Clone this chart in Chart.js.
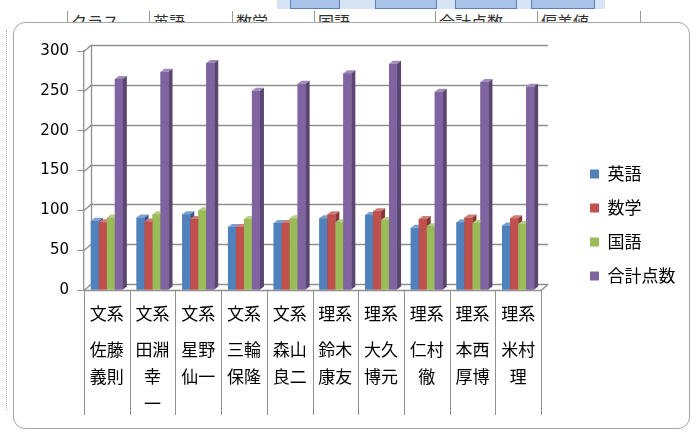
<!DOCTYPE html>
<html>
<head>
<meta charset="utf-8">
<script src="https://cdn.jsdelivr.net/npm/chart.js@4"></script>
<style>
  body { margin: 0; width: 699px; height: 432px; background: #fff; position: relative; overflow: hidden; font-family: "Noto Sans CJK JP", sans-serif; }
  .cell { position: absolute; top: 12px; font-size: 16px; line-height: 18px; color: #333; }
  .vline { position: absolute; top: 11px; width: 1px; height: 14px; background: #999; }
  #pic { position: absolute; left: 277px; top: 0; width: 328px; height: 9px; background: #d6e4f6; }
  #pic div { position: absolute; top: 0; height: 8px; border: 1px solid #5b7fbf; border-top: none; background: #a9c3e8; }
  #edge { position: absolute; left: 6px; top: 30px; width: 1px; height: 380px; border-left: 1px dotted #b0b0b0; }
  #frame { position: absolute; left: 13px; top: 22px; width: 675px; height: 405px; background: #fff; border: 1px solid #a6a6a6; border-radius: 12px; }
  #wrap { position: absolute; left: 13px; top: 23px; width: 676px; height: 404px; }
</style>
</head>
<body>
<div id="pic"><div style="left:13px;width:48px"></div><div style="left:98px;width:60px"></div><div style="left:178px;width:60px"></div><div style="left:254px;width:62px"></div></div>
<div id="edge"></div>
<div class="vline" style="left:67px"></div><div class="cell" style="left:71px">クラス</div>
<div class="vline" style="left:149px"></div><div class="cell" style="left:153px">英語</div>
<div class="vline" style="left:232px"></div><div class="cell" style="left:236px">数学</div>
<div class="vline" style="left:314px"></div><div class="cell" style="left:318px">国語</div>
<div class="vline" style="left:435px"></div><div class="cell" style="left:439px">合計点数</div>
<div class="vline" style="left:537px"></div><div class="cell" style="left:541px">偏差値</div>
<div class="vline" style="left:640px"></div>
<div id="frame"></div>
<div id="wrap"><canvas id="chart"></canvas></div>
<script>
const groups = ["文系", "文系", "文系", "文系", "文系", "理系", "理系", "理系", "理系", "理系"];
const names = [["佐藤", "義則"], ["田淵", "幸", "一"], ["星野", "仙一"], ["三輪", "保隆"], ["森山", "良二"],
  ["鈴木", "康友"], ["大久", "博元"], ["仁村", "徹"], ["本西", "厚博"], ["米村", "理"]];
const english = [87, 91, 95, 79, 84, 90, 94, 78, 85, 81];
const math = [85, 86, 89, 79, 84, 95, 99, 89, 91, 90];
const japanese = [91, 95, 100, 89, 90, 85, 88, 80, 84, 83];
const total = [265, 274, 285, 250, 259, 272, 284, 249, 261, 255];
const yTicks = [0, 50, 100, 150, 200, 250, 300];

const colors = ["#4f81bd", "#c0504d", "#9bbb59", "#8064a2"];

// wall depth and bar depth for the fake 3D look
const WALL_DX = 7, WALL_DY = 6;
const BAR_DX = 4, BAR_DY = 3;

function shade(hex, f) {
  let n = parseInt(hex.slice(1), 16);
  let r = n >> 16, g = (n >> 8) & 255, b = n & 255;
  const m = v => Math.max(0, Math.min(255, Math.round(f < 0 ? v * (1 + f) : v + (255 - v) * f)));
  return "rgb(" + m(r) + "," + m(g) + "," + m(b) + ")";
}

const wallPlugin = {
  id: "wall",
  beforeDatasetsDraw(chart) {
    const { ctx, chartArea: a, scales: { x, y } } = chart;
    ctx.save();
    ctx.strokeStyle = "#8f8f8f";
    ctx.lineWidth = 1.3;
    yTicks.forEach(v => {
      const py = Math.round(y.getPixelForValue(v)) + 0.5;
      ctx.beginPath();
      ctx.moveTo(a.left, py);
      ctx.lineTo(a.left + WALL_DX, py - WALL_DY);
      ctx.lineTo(a.right + WALL_DX, py - WALL_DY);
      ctx.stroke();
    });
    ctx.beginPath();
    ctx.moveTo(a.left + WALL_DX + 0.5, y.getPixelForValue(300) - WALL_DY);
    ctx.lineTo(a.left + WALL_DX + 0.5, a.bottom - WALL_DY);
    ctx.stroke();
    // floor front edge
    ctx.beginPath();
    ctx.moveTo(a.left, a.bottom + 0.5);
    ctx.lineTo(a.right, a.bottom + 0.5);
    ctx.lineTo(a.right + WALL_DX, a.bottom - WALL_DY + 0.5);
    ctx.stroke();
    // category dividers
    const n = chart.data.labels.length;
    const step = (x.right - x.left) / n;
    ctx.lineWidth = 1;
    for (let i = 0; i <= n; i++) {
      const px = Math.round(x.left + i * step) + 0.5;
      ctx.beginPath();
      ctx.moveTo(px, a.bottom);
      ctx.lineTo(px, a.bottom + 125);
      ctx.stroke();
    }
    ctx.restore();
  },
  afterDatasetsDraw(chart) {
    const ctx = chart.ctx;
    const n = chart.data.labels.length;
    ctx.save();
    for (let i = 0; i < n; i++) {
      chart.data.datasets.forEach((ds, d) => {
        const el = chart.getDatasetMeta(d).data[i];
        const c = colors[d];
        const l = el.x - el.width / 2, r = el.x + el.width / 2;
        const t = el.y, b = el.base;
        ctx.fillStyle = c;
        ctx.fillRect(l, t, r - l, b - t);
        ctx.fillStyle = shade(c, 0.25);
        ctx.beginPath();
        ctx.moveTo(l, t);
        ctx.lineTo(l + BAR_DX, t - BAR_DY);
        ctx.lineTo(r + BAR_DX, t - BAR_DY);
        ctx.lineTo(r, t);
        ctx.closePath();
        ctx.fill();
        ctx.fillStyle = shade(c, -0.3);
        ctx.beginPath();
        ctx.moveTo(r, t);
        ctx.lineTo(r + BAR_DX, t - BAR_DY);
        ctx.lineTo(r + BAR_DX, b - BAR_DY);
        ctx.lineTo(r, b);
        ctx.closePath();
        ctx.fill();
      });
    }
    ctx.restore();
  }
};

const chart = new Chart(document.getElementById("chart"), {
  type: "bar",
  data: {
    labels: groups,
    datasets: [
      { label: "英語", data: english, backgroundColor: colors[0] },
      { label: "数学", data: math, backgroundColor: colors[1] },
      { label: "国語", data: japanese, backgroundColor: colors[2] },
      { label: "合計点数", data: total, backgroundColor: colors[3] },
    ],
  },
  options: {
    responsive: true,
    maintainAspectRatio: false,
    animation: false,
    events: [],
    categoryPercentage: 0.7,
    barPercentage: 1,
    borderWidth: 0,
    layout: { padding: { top: 0, bottom: 0, left: 0, right: 4 } },
    plugins: {
      tooltip: { enabled: false },
      legend: {
        position: "right",
        labels: {
          boxWidth: 9,
          boxHeight: 9,
          padding: 17,
          color: "#000",
          font: { family: "'Noto Sans CJK JP'", size: 17 },
        },
      },
    },
    scales: {
      y: {
        min: 0,
        max: 300,
        afterFit: s => { s.width = 71; },
        afterBuildTicks: s => { s.ticks = yTicks.map(v => ({ value: v })); },
        grid: { drawOnChartArea: false, tickLength: 7, color: "#8f8f8f" },
        border: { color: "#8f8f8f", width: 1.3 },
        ticks: { padding: 8, color: "#000", font: { family: "'DejaVu Sans'", size: 15 } },
      },
      x: {
        afterFit: s => { s.height = 46; },
        grid: { display: false, drawTicks: false },
        border: { display: false },
        ticks: { padding: 13, color: "#000", maxRotation: 0, autoSkip: false, font: { family: "'Noto Sans CJK JP'", size: 17, lineHeight: 1.2 } },
      },
      x2: {
        type: "category",
        labels: names,
        position: "bottom",
        offset: true,
        afterFit: s => { s.height = 91; },
        grid: { display: false, drawTicks: false },
        border: { display: false },
        ticks: { padding: 0, color: "#000", maxRotation: 0, autoSkip: false, font: { family: "'Noto Sans CJK JP'", size: 17, lineHeight: 1.6 } },
      },
      xTop: {
        type: "category",
        position: "top",
        afterFit: s => { s.height = 28; },
        grid: { display: false, drawTicks: false },
        border: { display: false },
        ticks: { display: false },
      },
      y2: {
        type: "linear",
        position: "right",
        afterFit: s => { s.width = 32; },
        grid: { display: false },
        border: { display: false },
        ticks: { display: false },
      },
    },
  },
  plugins: [wallPlugin],
});
</script>
</body>
</html>
